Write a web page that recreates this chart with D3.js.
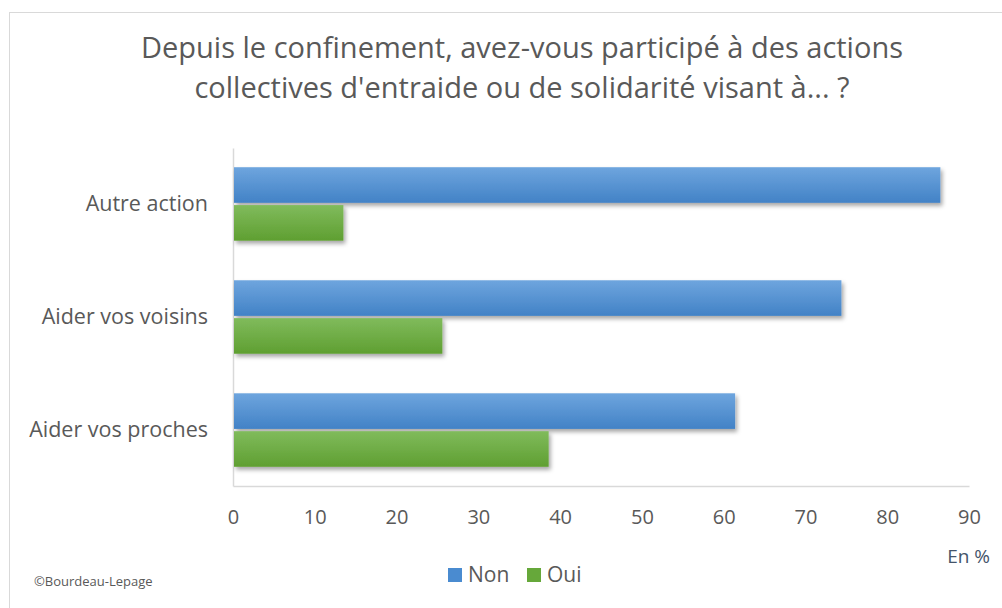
<!DOCTYPE html>
<html>
<head>
<meta charset="utf-8">
<script src="https://cdn.jsdelivr.net/npm/d3@7"></script>
<style>
  body { margin: 0; background: #fff; }
  text { font-family: "Open Sans", "Noto Sans", sans-serif; }
</style>
</head>
<body>
<div id="chart"></div>
<script>
// data (top to bottom)
var categories = ["Autre action", "Aider vos voisins", "Aider vos proches"];
var seriesNames = ["Non", "Oui"];
var nonValues = [86.5, 74.4, 61.4];
var ouiValues = [13.5, 25.6, 38.6];
var xTicks = [0, 10, 20, 30, 40, 50, 60, 70, 80, 90];

var W = 1002, H = 608;
var mLeft = 233, mRight = 969, mTop = 148, mBottom = 486;

var svg = d3.select("#chart").append("svg")
  .attr("width", W).attr("height", H);

var defs = svg.append("defs");
function grad(id, c1, c2) {
  var g = defs.append("linearGradient").attr("id", id)
    .attr("x1", 0).attr("y1", 0).attr("x2", 0).attr("y2", 1);
  g.append("stop").attr("offset", "0%").attr("stop-color", c1);
  g.append("stop").attr("offset", "100%").attr("stop-color", c2);
}
grad("gNon", "#6ea5de", "#4282c6");
grad("gOui", "#80bb5c", "#5f9f31");
var f = defs.append("filter").attr("id", "shadow")
  .attr("x", "-5%").attr("y", "-30%").attr("width", "115%").attr("height", "180%");
f.append("feDropShadow").attr("dx", 2).attr("dy", 3).attr("stdDeviation", 2)
  .attr("flood-color", "#000").attr("flood-opacity", 0.35);

// frame
svg.append("rect").attr("x", 9.5).attr("y", 12.5).attr("width", 1000).attr("height", 600)
  .attr("fill", "none").attr("stroke", "#d9d9d9");

// title
var title = svg.append("text").attr("text-anchor", "middle")
  .attr("fill", "#595959").style("font-size", "29px");
title.append("tspan").attr("x", 522).attr("y", 58)
  .text("Depuis le confinement, avez-vous participé à des actions");
title.append("tspan").attr("x", 522).attr("y", 98)
  .text("collectives d'entraide ou de solidarité visant à... ?");

var x = d3.scaleLinear().domain([0, 90]).range([mLeft, mRight]);
var y = d3.scaleBand().domain(categories).range([mTop, mBottom]).paddingInner(0.35).paddingOuter(0.17);
var y1 = d3.scaleBand().domain(seriesNames).range([0, y.bandwidth()]).paddingInner(0.06);

// axes
var xAxis = svg.append("g").attr("transform", "translate(0," + mBottom + ")")
  .call(d3.axisBottom(x).tickValues(xTicks).tickSize(0).tickPadding(24));
xAxis.select(".domain").attr("stroke", "#d9d9d9").attr("stroke-width", 1.5);
xAxis.selectAll("text").attr("fill", "#595959").style("font-size", "20px")
  .style("font-family", "'Open Sans', sans-serif");

var yAxis = svg.append("g").attr("transform", "translate(" + mLeft + ",0)")
  .call(d3.axisLeft(y).tickSize(0).tickPadding(25));
yAxis.select(".domain").attr("stroke", "#d9d9d9").attr("stroke-width", 1.5);
yAxis.selectAll("text").attr("fill", "#595959").style("font-size", "21.5px")
  .style("font-family", "'Open Sans', sans-serif");

// bars
var rows = categories.map(function(c, i) {
  return [{cat: c, s: "Non", v: nonValues[i]}, {cat: c, s: "Oui", v: ouiValues[i]}];
});
var groups = svg.selectAll(".grp").data(rows).enter().append("g")
  .attr("transform", function(d) { return "translate(0," + y(d[0].cat) + ")"; });
groups.selectAll("rect").data(function(d) { return d; }).enter().append("rect")
  .attr("x", x(0) + 1)
  .attr("y", function(d) { return y1(d.s); })
  .attr("height", y1.bandwidth())
  .attr("width", function(d) { return x(d.v) - x(0) - 1; })
  .attr("fill", function(d) { return d.s === "Non" ? "url(#gNon)" : "url(#gOui)"; })
  .attr("filter", "url(#shadow)");

// legend
var legColors = {Non: "#4a8bd0", Oui: "#66a83a"};
var legX = [448, 527];
seriesNames.forEach(function(s, i) {
  svg.append("rect").attr("x", legX[i]).attr("y", 568).attr("width", 14).attr("height", 14)
    .attr("fill", legColors[s]);
  svg.append("text").attr("x", legX[i] + 20).attr("y", 582)
    .attr("fill", "#595959").style("font-size", "21px").text(s);
});

svg.append("text").attr("x", 990).attr("y", 563).attr("text-anchor", "end")
  .attr("fill", "#44546a").style("font-size", "19px").text("En %");

svg.append("text").attr("x", 34).attr("y", 586)
  .attr("fill", "#595959").style("font-size", "13px").text("©Bourdeau-Lepage");
</script>
</body>
</html>
